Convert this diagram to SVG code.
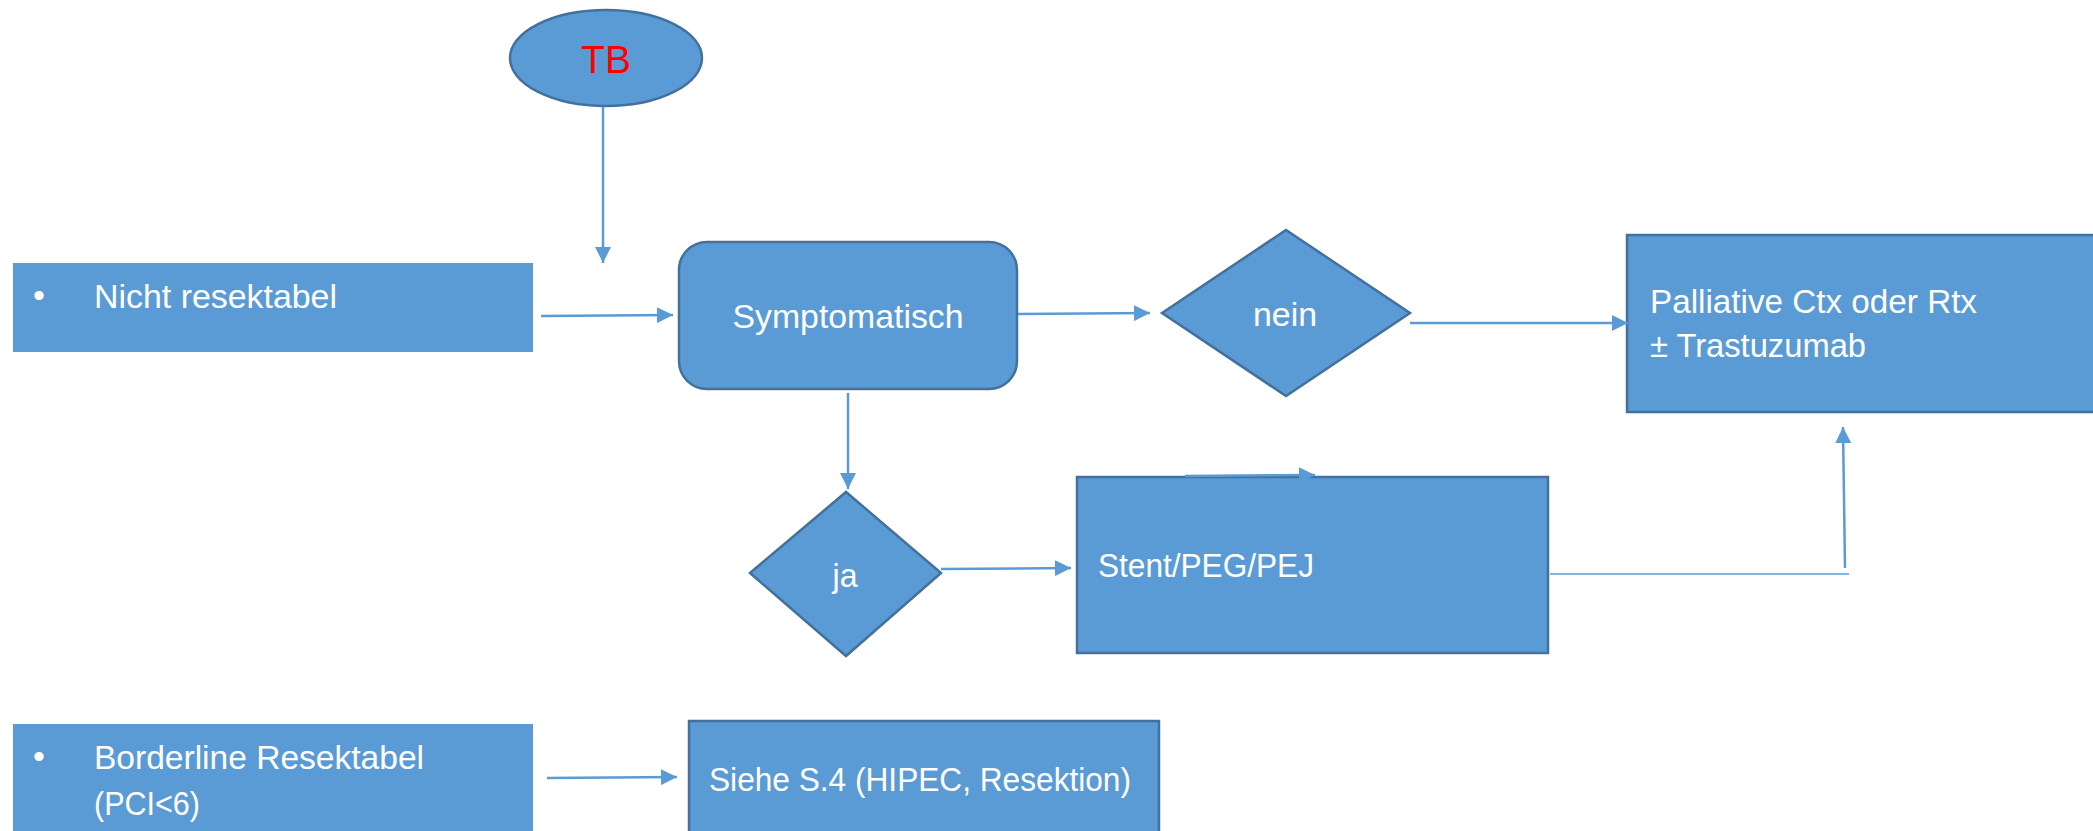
<svg xmlns="http://www.w3.org/2000/svg" width="2093" height="831" viewBox="0 0 2093 831">
<style>
.n{fill:#5B9BD5;stroke:#41719C;stroke-width:2.5}
.flat{fill:#5B9BD5;stroke:none}
.t{font-family:"Liberation Sans",Arial,sans-serif;font-size:34px;fill:#FFFFFF}
.c{fill:none;stroke:#5B9BD5;stroke-width:2.5}
.cl{fill:none;stroke:#84B4E1;stroke-width:2}
</style>
<defs>
<marker id="ah" markerUnits="userSpaceOnUse" markerWidth="18" markerHeight="16" refX="16" refY="8" orient="auto">
<path d="M0,0 L16,8 L0,16 Z" fill="#5B9BD5"/>
</marker>
</defs>
<rect x="0" y="0" width="2093" height="831" fill="#FFFFFF"/>
<g id="nodes">
<g id="tb">
<ellipse class="n" cx="606" cy="58" rx="96" ry="48"/>
<text x="606" y="73" font-family="Liberation Sans,Arial,sans-serif" font-size="39" fill="#FF0000" text-anchor="middle">TB</text>
</g>
<g id="nicht">
<rect class="flat" x="13" y="263" width="520" height="89"/>
<text class="t" x="39" y="307" text-anchor="middle">•</text>
<text class="t" x="94" y="308" textLength="243" lengthAdjust="spacingAndGlyphs">Nicht resektabel</text>
</g>
<g id="symptomatisch">
<rect class="n" x="679" y="242" width="338" height="147" rx="28" ry="28"/>
<text class="t" x="848" y="328" text-anchor="middle" textLength="231" lengthAdjust="spacingAndGlyphs">Symptomatisch</text>
</g>
<g id="nein">
<polygon class="n" points="1162,313 1286,230 1410,313 1286,396"/>
<text class="t" x="1285" y="326" text-anchor="middle" textLength="64" lengthAdjust="spacingAndGlyphs">nein</text>
</g>
<g id="palliative">
<rect class="n" x="1627" y="235" width="480" height="177"/>
<text class="t" x="1650" y="313" textLength="327" lengthAdjust="spacingAndGlyphs">Palliative Ctx oder Rtx</text>
<text class="t" x="1650" y="357" textLength="216" lengthAdjust="spacingAndGlyphs">± Trastuzumab</text>
</g>
<g id="ja">
<polygon class="n" points="750,573 846,492 941,573 846,656"/>
<text class="t" x="845" y="587" text-anchor="middle" textLength="25" lengthAdjust="spacingAndGlyphs">ja</text>
</g>
<g id="stent">
<rect class="n" x="1077" y="477" width="471" height="176"/>
<text class="t" x="1098" y="577" textLength="216" lengthAdjust="spacingAndGlyphs">Stent/PEG/PEJ</text>
</g>
<g id="borderline">
<rect class="flat" x="13" y="724" width="520" height="110"/>
<text class="t" x="39" y="768" text-anchor="middle">•</text>
<text class="t" x="94" y="769" textLength="330" lengthAdjust="spacingAndGlyphs">Borderline Resektabel</text>
<text class="t" x="94" y="815" textLength="106" lengthAdjust="spacingAndGlyphs">(PCI&lt;6)</text>
</g>
<g id="siehe">
<rect class="n" x="689" y="721" width="470" height="115"/>
<text class="t" x="709" y="791" textLength="422" lengthAdjust="spacingAndGlyphs">Siehe S.4 (HIPEC, Resektion)</text>
</g>
</g>
<g id="connectors">
<line class="c" x1="603" y1="107" x2="603" y2="263" marker-end="url(#ah)"/>
<line class="c" x1="541" y1="316" x2="673" y2="315" marker-end="url(#ah)"/>
<line class="c" x1="1018" y1="314" x2="1150" y2="313" marker-end="url(#ah)"/>
<line class="c" x1="1410" y1="323" x2="1628" y2="323" marker-end="url(#ah)"/>
<line class="c" x1="848" y1="393" x2="848" y2="489" marker-end="url(#ah)"/>
<line class="c" x1="941" y1="569" x2="1071" y2="568" marker-end="url(#ah)"/>
<line class="c" x1="1185" y1="476" x2="1315" y2="475" marker-end="url(#ah)"/>
<line class="cl" x1="1550" y1="574" x2="1849" y2="574"/>
<line class="c" x1="1845" y1="568" x2="1843" y2="427" marker-end="url(#ah)"/>
<line class="c" x1="547" y1="778" x2="677" y2="777" marker-end="url(#ah)"/>
</g>
</svg>
